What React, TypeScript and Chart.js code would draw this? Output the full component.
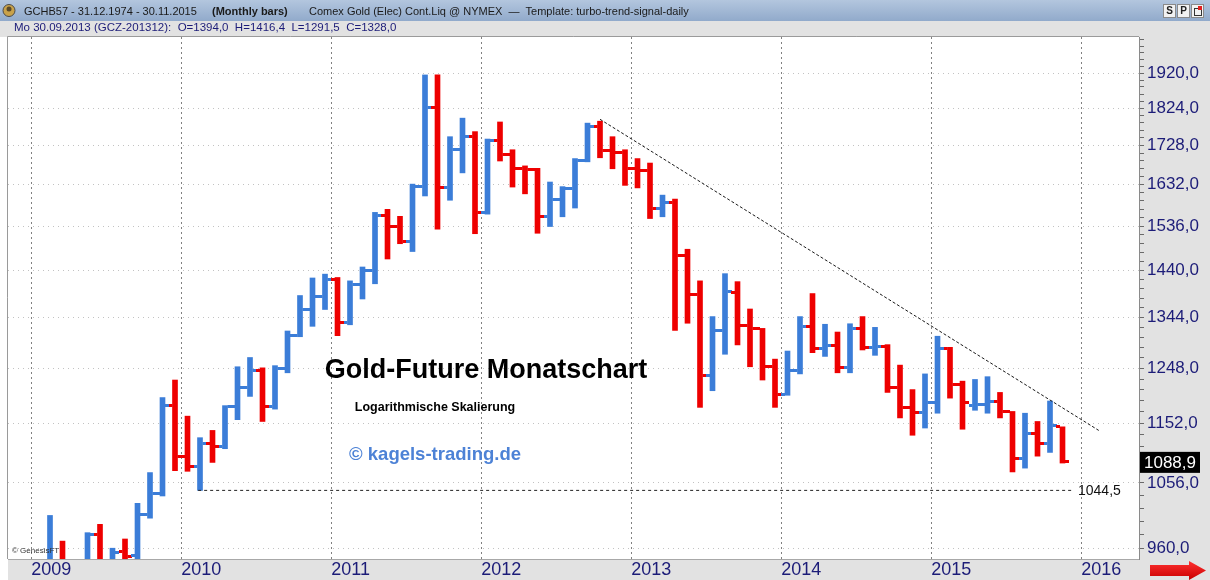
import React, { useEffect, useRef } from "react";
import { Chart, registerables } from "chart.js";

Chart.register(...registerables);

// Monthly bars, Jan 2009 (index 0) .. Nov 2015 (index 82)
const MONTHS: string[] = [];
for (let y = 2009; y <= 2015; y++) {
  for (let m = 1; m <= 12; m++) {
    if (y === 2015 && m > 11) break;
    MONTHS.push(`${y}-${String(m).padStart(2, "0")}`);
  }
}

const OPEN = [
  884, 927, 942, 916, 883, 979, 927, 956, 950, 1008, 1040, 1182,
  1097, 1081, 1118, 1113, 1180, 1214, 1245, 1180, 1248, 1309, 1359, 1387,
  1421, 1334, 1411, 1439, 1560, 1536, 1502, 1628, 1826, 1624, 1718, 1750,
  1566, 1741, 1705, 1671, 1667, 1557, 1597, 1622, 1691, 1775, 1716, 1710,
  1671, 1665, 1575, 1590, 1472, 1390, 1236, 1319, 1394, 1328, 1322, 1252,
  1202, 1244, 1326, 1284, 1290, 1250, 1322, 1286, 1289, 1214, 1178, 1170,
  1187, 1284, 1219, 1183, 1184, 1190, 1172, 1095, 1135, 1118, 1146,
];
const HIGH = [
  931, 1007, 970, 918, 982, 994, 960, 973, 1025, 1072, 1196, 1227,
  1164, 1128, 1140, 1182, 1251, 1268, 1249, 1253, 1318, 1388, 1424, 1432,
  1425, 1418, 1447, 1567, 1574, 1558, 1633, 1915, 1915, 1750, 1798, 1763,
  1744, 1788, 1717, 1677, 1671, 1638, 1627, 1695, 1785, 1790, 1750, 1717,
  1695, 1684, 1607, 1598, 1485, 1418, 1346, 1433, 1416.4, 1361, 1323, 1265,
  1280, 1346, 1392, 1331, 1316, 1332, 1346, 1325, 1292, 1254, 1210, 1238,
  1308, 1287, 1225, 1228, 1233, 1205, 1172, 1169, 1155, 1190, 1146,
];
const LOW = [
  802, 916, 864, 865, 881, 910, 905, 931, 931, 1003, 1036, 1075,
  1074, 1044.5, 1088, 1110, 1158, 1198, 1155, 1176, 1240, 1307, 1327, 1360,
  1309, 1330, 1381, 1412, 1464, 1497, 1480, 1605, 1529, 1595, 1660, 1519,
  1563, 1689, 1626, 1610, 1520, 1535, 1557, 1577, 1687, 1697, 1670, 1630,
  1624, 1553, 1557, 1319, 1333, 1179, 1208, 1274, 1291.5, 1251, 1227, 1179,
  1200, 1238, 1277, 1270, 1240, 1240, 1282, 1272, 1205, 1161, 1132, 1144,
  1169, 1195, 1142, 1174, 1169, 1161, 1073, 1079, 1098, 1104, 1087,
];
const CLOSE = [
  927, 942, 916, 883, 979, 927, 954, 949, 1008, 1040, 1182, 1097,
  1081, 1118, 1113, 1180, 1214, 1245, 1180, 1248, 1309, 1359, 1387, 1421,
  1334, 1411, 1439, 1560, 1536, 1502, 1628, 1826, 1624, 1718, 1750, 1566,
  1741, 1705, 1671, 1667, 1557, 1597, 1622, 1691, 1775, 1716, 1710, 1671,
  1665, 1575, 1590, 1472, 1390, 1236, 1319, 1397, 1328, 1322, 1252, 1202,
  1244, 1326, 1284, 1290, 1250, 1322, 1286, 1289, 1214, 1178, 1170, 1187,
  1284, 1219, 1187, 1184, 1190, 1172, 1095, 1135, 1118, 1148, 1088.9,
];

const YEAR_LABELS = ["2009", "2010", "2011", "2012", "2013", "2014", "2015", "2016"];
const PRICE_LABELS = [960, 1056, 1152, 1248, 1344, 1440, 1536, 1632, 1728, 1824, 1920];
const MINOR_STEP = 19.2;

// Trend line (month index, price) and support level
const TREND_X = [45, 84.9];
const TREND_Y = [1795, 1140];
const SUPPORT_X = [12.85, 82.9];
const SUPPORT_LEVEL = 1044.5;
const LAST_PRICE = 1088.9;

const FONT = "'Liberation Sans', Arial, Helvetica, sans-serif";
const BLUE = "#3b7dd8";
const RED = "#ee0000";
const NAVY = "#1c1c78";

const fmt = (v: number) => v.toFixed(1).replace(".", ",");

export default function App() {
  const ref = useRef<HTMLCanvasElement>(null);

  useEffect(() => {
    const canvas = ref.current!;
    const mkTick = (color: string, side: "left" | "right") => {
      const c = document.createElement("canvas");
      c.width = 13;
      c.height = 3;
      const g = c.getContext("2d")!;
      g.fillStyle = color;
      g.fillRect(side === "left" ? 0 : 9, 0, 4, 3);
      return c;
    };
    const openBlue = mkTick(BLUE, "left");
    const openRed = mkTick(RED, "left");
    const closeBlue = mkTick(BLUE, "right");
    const closeRed = mkTick(RED, "right");
    const up = (i: number) => CLOSE[i] >= OPEN[i];

    const decor = {
      id: "decor",
      beforeDraw(chart: any) {
        const { ctx, chartArea: a } = chart;
        ctx.save();
        ctx.fillStyle = "#ffffff";
        ctx.fillRect(0, 0, 1210, 580);
        const g = ctx.createLinearGradient(0, 0, 0, 21);
        g.addColorStop(0, "#b3c6de");
        g.addColorStop(1, "#91aacb");
        ctx.fillStyle = g;
        ctx.fillRect(0, 0, 1210, 21);
        ctx.fillStyle = "#e2e2e2";
        ctx.fillRect(0, 21, 1210, a.top - 21);
        ctx.fillRect(a.right, 21, 1210 - a.right, 580 - 21);
        ctx.fillRect(a.left, a.bottom, a.right - a.left, 580 - a.bottom);
        // plot border
        ctx.strokeStyle = "#9a9a9a";
        ctx.lineWidth = 1;
        ctx.beginPath();
        ctx.moveTo(a.left - 0.5, a.bottom);
        ctx.lineTo(a.left - 0.5, a.top - 0.5);
        ctx.lineTo(a.right, a.top - 0.5);
        ctx.stroke();
        // header icon
        ctx.fillStyle = "#c9a24a";
        ctx.beginPath();
        ctx.arc(9, 10.5, 6, 0, Math.PI * 2);
        ctx.fill();
        ctx.strokeStyle = "#4a4a4a";
        ctx.stroke();
        ctx.fillStyle = "#5a4a2a";
        ctx.beginPath();
        ctx.arc(9, 9, 2.5, 0, Math.PI * 2);
        ctx.fill();
        // header text
        ctx.textBaseline = "middle";
        ctx.textAlign = "left";
        ctx.fillStyle = "#1a1a1a";
        ctx.font = `11px ${FONT}`;
        ctx.fillText("GCHB57 - 31.12.1974 - 30.11.2015", 24, 11.5);
        ctx.font = `bold 11px ${FONT}`;
        ctx.fillText("(Monthly bars)", 212, 11.5);
        ctx.font = `11px ${FONT}`;
        ctx.fillText("Comex Gold (Elec) Cont.Liq @ NYMEX  \u2014  Template: turbo-trend-signal-daily", 309, 11.5);
        ctx.fillStyle = NAVY;
        ctx.font = `11.5px ${FONT}`;
        ctx.fillText("Mo 30.09.2013 (GCZ-201312):  O=1394,0  H=1416,4  L=1291,5  C=1328,0", 14, 28);
        // header buttons
        const btn = (x: number, label: string) => {
          ctx.fillStyle = "#f2f2f2";
          ctx.fillRect(x, 4, 13, 14);
          ctx.strokeStyle = "#8a8a8a";
          ctx.strokeRect(x + 0.5, 4.5, 12, 13);
          if (label) {
            ctx.fillStyle = "#222";
            ctx.font = `bold 10px ${FONT}`;
            ctx.textAlign = "center";
            ctx.fillText(label, x + 6.5, 11.5);
          }
        };
        btn(1163, "S");
        btn(1177, "P");
        btn(1191, "");
        ctx.strokeStyle = "#333";
        ctx.strokeRect(1194.5, 8.5, 7, 7);
        ctx.fillStyle = "#e02020";
        ctx.fillRect(1198, 6, 4, 4);
        ctx.restore();
      },
      afterDraw(chart: any) {
        const { ctx, chartArea: a, scales } = chart;
        const ys = scales.y;
        ctx.save();
        ctx.textBaseline = "middle";
        // titles
        ctx.textAlign = "center";
        ctx.fillStyle = "#000";
        ctx.font = `bold 27px ${FONT}`;
        ctx.fillText("Gold-Future Monatschart", 486, 371);
        ctx.font = `bold 12.5px ${FONT}`;
        ctx.fillText("Logarithmische Skalierung", 435, 408);
        ctx.fillStyle = "#4d82d6";
        ctx.font = `bold 18.5px ${FONT}`;
        ctx.fillText("\u00a9 kagels-trading.de", 435, 455);
        // source
        ctx.textAlign = "left";
        ctx.fillStyle = "#333";
        ctx.font = `8px ${FONT}`;
        ctx.fillText("\u00a9 GenesisFT", 12, 551);
        // support label
        ctx.fillStyle = "#111";
        ctx.font = `14px ${FONT}`;
        ctx.fillText(fmt(SUPPORT_LEVEL), 1078, ys.getPixelForValue(SUPPORT_LEVEL) + 1);
        // last price box
        const py = ys.getPixelForValue(LAST_PRICE);
        ctx.fillStyle = "#000";
        ctx.fillRect(a.right + 1, py - 10, 60, 21);
        ctx.fillStyle = "#fff";
        ctx.font = `17px ${FONT}`;
        ctx.textAlign = "center";
        ctx.fillText(fmt(LAST_PRICE), a.right + 31, py + 1);
        // red arrow
        const ag = ctx.createLinearGradient(0, 561, 0, 580);
        ag.addColorStop(0, "#ff3030");
        ag.addColorStop(1, "#c80000");
        ctx.fillStyle = ag;
        ctx.beginPath();
        ctx.moveTo(1150, 565);
        ctx.lineTo(1189, 565);
        ctx.lineTo(1189, 561);
        ctx.lineTo(1206, 570.5);
        ctx.lineTo(1189, 580);
        ctx.lineTo(1189, 576);
        ctx.lineTo(1150, 576);
        ctx.closePath();
        ctx.fill();
        ctx.restore();
      },
    };

    const yTicks: number[] = [];
    for (let k = 0; ; k++) {
      const v = PRICE_LABELS[0] + MINOR_STEP * k;
      if (v > 2024) break;
      yTicks.push(Math.round(v * 10) / 10);
    }
    const isMajor = (v: number) => PRICE_LABELS.some((p) => Math.abs(p - v) < 0.01);

    const chart = new Chart(canvas, {
      type: "bar",
      data: {
        labels: MONTHS,
        datasets: [
          {
            type: "bar",
            label: "range",
            data: MONTHS.map((_, i) => ({ x: i, y: [LOW[i], HIGH[i]] })) as any,
            backgroundColor: MONTHS.map((_, i) => (up(i) ? BLUE : RED)),
            borderWidth: 0,
            borderSkipped: false,
            barThickness: 5,
            grouped: false,
            order: 2,
          } as any,
          {
            type: "line",
            label: "open",
            data: MONTHS.map((_, i) => ({ x: i, y: OPEN[i] })),
            showLine: false,
            pointRadius: 3,
            pointHoverRadius: 3,
            pointStyle: (c: any) => (up(c.dataIndex) ? openBlue : openRed),
            clip: 0,
            order: 1,
          } as any,
          {
            type: "line",
            label: "close",
            data: MONTHS.map((_, i) => ({ x: i, y: CLOSE[i] })),
            showLine: false,
            pointRadius: 3,
            pointHoverRadius: 3,
            pointStyle: (c: any) => (up(c.dataIndex) ? closeBlue : closeRed),
            clip: 0,
            order: 1,
          } as any,
          {
            type: "line",
            label: "trend",
            data: TREND_X.map((x, i) => ({ x, y: TREND_Y[i] })),
            borderColor: "#1a1a1a",
            borderWidth: 1,
            borderDash: [3, 2],
            pointRadius: 0,
            order: 0,
          } as any,
          {
            type: "line",
            label: "support",
            data: SUPPORT_X.map((x) => ({ x, y: SUPPORT_LEVEL })),
            borderColor: "#222",
            borderWidth: 1,
            borderDash: [3, 3],
            pointRadius: 0,
            order: 0,
          } as any,
        ],
      },
      options: {
        responsive: false,
        animation: false,
        devicePixelRatio: 1,
        events: [],
        layout: { padding: { top: 37, left: 8, right: 0, bottom: 0 } },
        plugins: { legend: { display: false }, tooltip: { enabled: false } },
        scales: {
          x: {
            type: "linear",
            min: -2.36,
            max: 88.12,
            offset: false,
            bounds: "data",
            afterBuildTicks: (s: any) => {
              s.ticks = YEAR_LABELS.map((_, k) => ({ value: -0.5 + 12 * k }));
            },
            afterFit: (s: any) => {
              s.height = 21;
            },
            ticks: {
              autoSkip: false,
              align: "start",
              maxRotation: 0,
              padding: 0,
              color: NAVY,
              font: { family: FONT, size: 18 },
              callback: (_v: any, i: number) => YEAR_LABELS[i],
            },
            grid: {
              offset: false,
              color: "#808080",
              lineWidth: 1,
              drawTicks: false,
              tickLength: 0,
            },
            border: { display: true, color: "#a8a8a8", dash: [2, 3] },
          },
          y: {
            type: "logarithmic",
            position: "right",
            min: 945,
            max: 2024,
            bounds: "data",
            beginAtZero: false,
            afterBuildTicks: (s: any) => {
              s.ticks = yTicks.map((v) => ({ value: v }));
            },
            afterFit: (s: any) => {
              s.width = 71;
            },
            ticks: {
              autoSkip: false,
              padding: 3,
              color: NAVY,
              font: { family: FONT, size: 17 },
              callback: (v: any) => (isMajor(Number(v)) ? fmt(Number(v)) : ""),
            },
            grid: {
              color: (c: any) => (c.tick && isMajor(c.tick.value) ? "#c2c2c2" : "rgba(0,0,0,0)"),
              lineWidth: 1,
              drawTicks: true,
              tickLength: 5,
              tickColor: "#6a6a6a",
              tickWidth: 1,
              tickBorderDash: [],
            },
            border: { display: true, color: "#8a8a8a", dash: [1, 4] },
          },
        },
      } as any,
      plugins: [decor],
    });
    return () => chart.destroy();
  }, []);

  return (
    <div style={{ position: "absolute", left: 0, top: 0, width: 1210, height: 580 }}>
      <canvas ref={ref} width={1210} height={580} style={{ display: "block", width: 1210, height: 580 }} />
    </div>
  );
}
